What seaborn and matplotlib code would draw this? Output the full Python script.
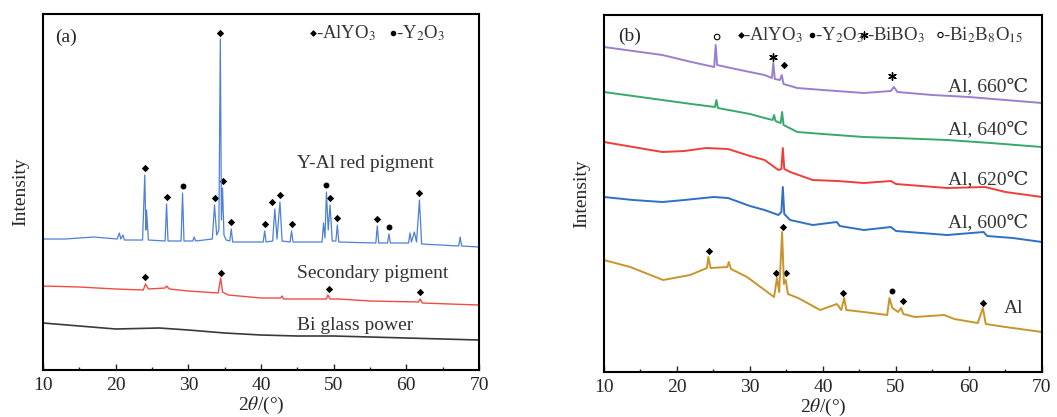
import numpy as np
import pandas as pd
import matplotlib
matplotlib.use("Agg")
import matplotlib.pyplot as plt
import seaborn as sns

# ---------- panel (a) data: 2theta vs intensity (arbitrary offset units) ----------
yal_x = [10, 13, 17, 20.2, 20.5, 20.7, 21.0, 21.2, 23.7, 24.0, 24.15, 24.25, 24.5,
         26.8, 27.0, 27.2, 29.0, 29.2, 29.4, 30.6, 30.8, 31.0, 33.3, 33.6, 33.9,
         34.2, 34.4, 34.55, 34.7, 34.9, 35.2, 35.7, 35.9, 36.1, 40.3, 40.5, 40.7,
         41.6, 41.9, 42.2, 42.6, 42.9, 44.0, 44.2, 44.4, 48.4, 48.6, 48.8, 49.0,
         49.25, 49.5, 49.8, 50.3, 50.5, 50.7, 55.8, 56.0, 56.2, 57.4, 57.6, 57.8,
         60.3, 60.5, 60.7, 61.1, 61.4, 61.8, 62.1, 67.2, 67.4, 67.6, 70]
yal_y = [131, 131, 133, 131, 137, 131, 135, 130, 130, 195, 140, 160, 130,
         129, 166, 129, 129, 177, 129, 129, 133, 129, 131, 165, 135,
         140, 331, 150, 182, 135, 130, 129, 141, 128, 128, 139, 128,
         129, 161, 131, 168, 129, 128, 139, 128, 128, 147, 132, 178,
         140, 165, 129, 129, 145, 128, 127, 144, 127, 127, 136, 127,
         127, 137, 128, 138, 128, 170, 126, 124, 133, 124, 123]

sec_x = [10, 15, 20, 23.8, 24.1, 24.5, 26.8, 27.0, 27.4, 30, 34.1, 34.45, 34.7, 35.5,
         40, 42.7, 42.9, 43.1, 49.0, 49.2, 49.5, 50.7, 55, 61.7, 61.9, 62.2, 66, 70]
sec_y = [84, 83, 81, 80, 86, 81, 82, 84, 81, 79, 77, 92, 78, 75,
         72, 72, 74, 71, 71, 75, 71, 71, 69, 68, 71, 67, 66, 65]

glass_x = [10, 15, 20, 26, 30, 35, 40, 45, 50, 60, 70]
glass_y = [47, 44, 41, 42, 40, 37, 35, 34, 34, 32, 30]

a_dia_x = [24.0, 27.0, 33.6, 34.4, 34.7, 35.9, 40.5, 41.5, 42.6, 44.2, 49.5, 50.5, 56.0, 61.8,
           24.1, 34.5, 49.4, 61.9]
a_dia_y = [202, 173, 172, 337, 189, 148, 146, 168, 175, 146, 172, 152, 151, 177,
           93, 97, 81, 78]
a_cir_x = [29.2, 49.0, 57.6]
a_cir_y = [184, 185, 143]

# ---------- panel (b) data ----------
t660_x = [10, 14, 18, 22, 25.1, 25.3, 25.5, 28, 30, 32, 33.0, 33.2, 33.4, 34.1, 34.35, 34.6,
          36.5, 40, 45.6, 49.3, 49.7, 50.2, 55, 60, 65, 70]
t660_y = [325, 321, 317, 310, 305, 327, 307, 303, 300, 297, 294, 309, 293, 292, 297, 288,
          284, 282, 279, 281, 285, 280, 277, 275, 272, 269]

t640_x = [10, 14, 18, 22, 25.2, 25.4, 25.6, 30, 32, 33.1, 33.3, 33.5, 34.2, 34.4, 34.6,
          36.5, 40, 45.6, 50, 57, 63, 70]
t640_y = [280, 276, 272, 268, 265, 272, 264, 258, 254, 252, 257, 251, 249, 260, 247,
          240, 238, 235, 234, 232, 229, 225]

t620_x = [10, 14, 18, 21, 24, 27, 30, 32, 33.9, 34.3, 34.5, 34.7, 35.5, 38.6, 42, 45.6,
          49.3, 50, 57, 62.2, 65, 70]
t620_y = [230, 225, 220, 221, 224, 223, 216, 212, 202, 203, 224, 203, 200, 192, 191, 189,
          191, 188, 184, 185, 180, 175]

t600_x = [10, 14, 18, 21, 25, 27, 30, 32, 33.9, 34.3, 34.5, 34.7, 35.5, 38.6, 41.9, 42.3,
          45.6, 49.3, 50, 57, 62, 62.5, 66, 70]
t600_y = [175, 172, 170, 172, 175, 174, 166, 162, 157, 160, 185, 158, 152, 147, 150, 146,
          142, 145, 141, 137, 140, 136, 134, 130]

al_x = [10, 13.6, 18.1, 21.8, 24.1, 24.3, 24.6, 26.9, 27.1, 27.4, 29.6, 33.3, 33.7, 34.0,
        34.4, 34.65, 34.9, 35.2, 36.6, 39.6, 41.9, 42.5, 42.9, 43.2, 45.6, 48.8, 49.1,
        49.5, 50.3, 50.7, 51.0, 52.6, 56.6, 58, 61.2, 61.9, 62.3, 65, 70]
al_y = [112, 105, 92, 97, 104, 115, 104, 105, 110, 103, 95, 75, 94, 80,
        140, 88, 92, 78, 74, 62, 68, 62, 74, 62, 60, 57, 74,
        64, 60, 64, 58, 55, 57, 53, 49, 64, 48, 45, 40]

b_dia_x = [34.6, 24.4, 33.6, 34.5, 34.95, 42.8, 50.9, 61.9]
b_dia_y = [307, 121, 99, 145, 99, 79, 71, 69]
b_cir_x = [49.4]
b_cir_y = [81]
b_ast_x = [33.1, 49.5]
b_ast_y = [315, 296]
b_ocir_x = [25.5]
b_ocir_y = [335]

sns.set_style("white")
plt.rcParams["font.family"] = ["Liberation Serif", "DejaVu Serif"]
plt.rcParams["mathtext.fontset"] = "stix"

fig = plt.figure(figsize=(10.57, 4.17), dpi=100)
ax_a = fig.add_axes([0.0407, 0.1127, 0.4125, 0.8537])
ax_b = fig.add_axes([0.5714, 0.1079, 0.4144, 0.8561])

fs = 14
txt = "#333333"


def style_axis(ax, ymax):
    ax.set_xlim(10, 70)
    ax.set_ylim(0, ymax)
    ax.set_xticks(range(10, 71, 10))
    ax.set_xticks(range(15, 70, 10), minor=True)
    ax.set_yticks([])
    ax.tick_params(axis="x", which="major", direction="in", length=4, width=1,
                   labelsize=fs, pad=5, bottom=True)
    ax.tick_params(axis="x", which="minor", direction="in", length=2.5, width=1, bottom=True)
    for s in ax.spines.values():
        s.set_visible(True)
        s.set_color("black")
        s.set_linewidth(1.5)
    ax.set_xlabel(r"2$\theta$/(°)", fontsize=fs, labelpad=1)
    ax.set_ylabel("Intensity", fontsize=fs, labelpad=10)


def line(ax, xs, ys, color, lw):
    sns.lineplot(x=xs, y=ys, ax=ax, color=color, linewidth=lw, sort=False, legend=False)


# ---------- panel (a) ----------
line(ax_a, glass_x, glass_y, "#3a3a3a", 1.2)
line(ax_a, sec_x, sec_y, "#f04c45", 1.0)
line(ax_a, yal_x, yal_y, "#4d80d6", 0.9)
sns.scatterplot(x=a_dia_x, y=a_dia_y, ax=ax_a, marker="D", s=14, color="black", linewidth=0)
sns.scatterplot(x=a_cir_x, y=a_cir_y, ax=ax_a, marker="o", s=18, color="black", linewidth=0)
style_axis(ax_a, 356)

ax_a.text(0.028, 0.935, "(a)", transform=ax_a.transAxes, fontsize=fs, va="center")
ax_a.text(44.9, 207, "Y-Al red pigment", fontsize=fs, va="center", color=txt)
ax_a.text(44.9, 97, "Secondary pigment", fontsize=fs, va="center", color=txt)
ax_a.text(44.9, 45, "Bi glass power", fontsize=fs, va="center", color=txt)

ax_a.scatter([47.1], [337], marker="D", s=12, color="black", linewidths=0)
ax_a.text(47.6, 337, r"-AlYO$_3$", fontsize=13.5, va="center", color=txt)
ax_a.scatter([58.1], [337], marker="o", s=16, color="black", linewidths=0)
ax_a.text(58.6, 337, r"-Y$_2$O$_3$", fontsize=13.5, va="center", color=txt)

# ---------- panel (b) ----------
line(ax_b, al_x, al_y, "#c8952c", 1.4)
line(ax_b, t600_x, t600_y, "#2f6fc6", 1.4)
line(ax_b, t620_x, t620_y, "#ef3e3a", 1.4)
line(ax_b, t640_x, t640_y, "#37a96a", 1.4)
line(ax_b, t660_x, t660_y, "#9a7fcf", 1.4)
sns.scatterplot(x=b_dia_x, y=b_dia_y, ax=ax_b, marker="D", s=14, color="black", linewidth=0)
sns.scatterplot(x=b_cir_x, y=b_cir_y, ax=ax_b, marker="o", s=18, color="black", linewidth=0)
ax_b.scatter(b_ast_x, b_ast_y, marker=(6, 2, 0), s=30, color="black", linewidths=1)
ax_b.scatter(b_ocir_x, b_ocir_y, marker="o", s=16, facecolors="none", edgecolors="black",
             linewidths=0.8)
style_axis(ax_b, 357)

ax_b.text(0.032, 0.94, "(b)", transform=ax_b.transAxes, fontsize=fs, va="center")
for lab, xx, yy in [("Al, 660℃", 68.1, 285), ("Al, 640℃", 68.1, 242),
                    ("Al, 620℃", 68.1, 192), ("Al, 600℃", 68.1, 149),
                    ("Al", 67.4, 64)]:
    ax_b.text(xx, yy, lab, fontsize=fs, va="center", ha="right", color=txt)

ax_b.scatter([28.8], [337], marker="D", s=12, color="black", linewidths=0)
ax_b.text(29.1, 337, r"-AlYO$_3$", fontsize=13.5, va="center", color=txt)
ax_b.scatter([38.5], [337], marker="o", s=16, color="black", linewidths=0)
ax_b.text(38.9, 337, r"-Y$_2$O$_3$", fontsize=13.5, va="center", color=txt)
ax_b.scatter([45.6], [337], marker=(6, 2, 0), s=26, color="black", linewidths=1)
ax_b.text(46.0, 337, r"-BiBO$_3$", fontsize=13.5, va="center", color=txt)
ax_b.scatter([56.1], [337], marker="o", s=14, facecolors="none", edgecolors="black",
             linewidths=0.8)
ax_b.text(56.4, 337, r"-Bi$_2$B$_8$O$_{15}$", fontsize=13.5, va="center", color=txt)

fig.savefig("out.png", dpi=100)
